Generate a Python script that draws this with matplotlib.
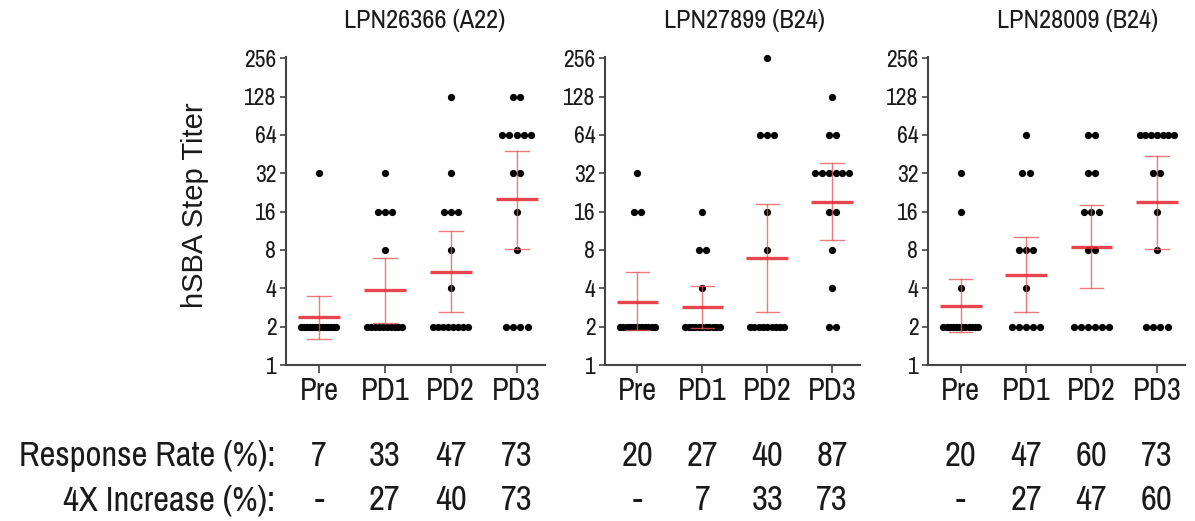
import matplotlib
matplotlib.use("Agg")
import matplotlib.pyplot as plt
import matplotlib.transforms as mtransforms
import numpy as np

# --- data ---
groups = ["Pre", "PD1", "PD2", "PD3"]
titles = ["LPN26366 (A22)", "LPN27899 (B24)", "LPN28009 (B24)"]

# (titer, number of subjects) for each group
lpn26366 = [
    [(32, 1), (2, 14)],
    [(32, 1), (16, 3), (8, 1), (2, 10)],
    [(128, 1), (32, 1), (16, 3), (8, 1), (4, 1), (2, 8)],
    [(128, 2), (64, 5), (32, 2), (16, 1), (8, 1), (2, 4)],
]
lpn27899 = [
    [(32, 1), (16, 2), (2, 12)],
    [(16, 1), (8, 2), (4, 1), (2, 11)],
    [(256, 1), (64, 3), (16, 1), (8, 1), (2, 9)],
    [(128, 1), (64, 2), (32, 6), (16, 2), (8, 1), (4, 1), (2, 2)],
]
lpn28009 = [
    [(32, 1), (16, 1), (4, 1), (2, 12)],
    [(64, 1), (32, 2), (8, 3), (4, 1), (2, 5)],
    [(64, 2), (32, 2), (16, 3), (8, 2), (2, 6)],
    [(64, 7), (32, 2), (16, 1), (8, 1), (2, 4)],
]
panels = [lpn26366, lpn27899, lpn28009]

# geometric means and error bar limits
gmt = [[2.37, 3.9, 5.4, 20.2], [3.1, 2.85, 6.9, 19.2], [2.9, 5.1, 8.5, 18.9]]
err_lo = [[1.59, 2.15, 2.6, 8.1], [1.88, 1.95, 2.6, 9.6], [1.83, 2.6, 4.0, 8.1]]
err_hi = [[3.5, 6.9, 11.3, 48], [5.35, 4.2, 18.3, 38.4], [4.7, 10.1, 17.9, 44]]

response_rate = [["7", "33", "47", "73"], ["20", "27", "40", "87"], ["20", "47", "60", "73"]]
increase_4x = [["-", "27", "40", "73"], ["-", "7", "33", "73"], ["-", "27", "47", "60"]]

yticks = [1, 2, 4, 8, 16, 32, 64, 128, 256]

NARROW = ["Liberation Sans Narrow", "Archivo Narrow", "DejaVu Sans"]
REGULAR = ["Liberation Sans", "DejaVu Sans"]
INK = "#1a1a1a"

W, H = 1195, 521
fig = plt.figure(figsize=(W / 100, H / 100), dpi=100)

lefts = [286, 605, 928]
rights = [545, 860, 1185]
bottom_px, top_px = 365, 57
title_x = [425, 745, 1078]

for p, data in enumerate(panels):
    ax = fig.add_axes([lefts[p] / W, 1 - bottom_px / H,
                       (rights[p] - lefts[p]) / W, (bottom_px - top_px) / H])

    # dots, spread sideways in rows
    for gi, pairs in enumerate(data):
        for val, n in pairs:
            step = min(0.11, 0.53 / (n - 1)) if n > 1 else 0
            xs = gi + (np.arange(n) - (n - 1) / 2) * step
            ax.plot(xs, [val] * n, "o", color="black", ms=5.2, mec="none",
                    clip_on=False, zorder=3)

    # geometric mean and error bars
    for gi in range(len(groups)):
        ax.plot([gi, gi], [err_lo[p][gi], err_hi[p][gi]], color="#e35a5f", lw=1.0,
                alpha=0.8, zorder=4)
        for yv in (err_lo[p][gi], err_hi[p][gi]):
            ax.plot([gi - 0.18, gi + 0.18], [yv, yv], color="#e35a5f", lw=1.0,
                    alpha=0.8, zorder=4)
        ax.plot([gi - 0.32, gi + 0.32], [gmt[p][gi]] * 2, color="#e3262f", lw=2.4,
                alpha=0.85, solid_capstyle="butt", zorder=5)

    ax.set_yscale("log", base=2)
    ax.set_ylim(1, 262)
    ax.set_xlim(-0.5, 3.43)
    ax.set_yticks(yticks)
    ax.set_yticklabels([str(t) for t in yticks], family=NARROW, fontsize=17, color=INK)
    ax.yaxis.set_minor_locator(matplotlib.ticker.NullLocator())
    ax.set_xticks(range(len(groups)))
    ax.set_xticklabels(groups, family=NARROW, fontsize=22, color=INK)
    ax.tick_params(axis="y", length=4, width=1.2, pad=3, colors="#444444", labelcolor=INK)
    ax.tick_params(axis="x", length=6, width=1.2, pad=3, colors="#444444", labelcolor=INK)
    for s in ("top", "right"):
        ax.spines[s].set_visible(False)
    for s in ("left", "bottom"):
        ax.spines[s].set_color("#444444")
        ax.spines[s].set_linewidth(1.5)

    fig.text(title_x[p] / W, 1 - 20 / H, titles[p], family=NARROW, fontsize=19,
             ha="center", va="center", color=INK)

    # table values under each group
    tr = mtransforms.blended_transform_factory(ax.transData, fig.transFigure)
    for gi in range(len(groups)):
        ax.text(gi, 1 - 456 / H, response_rate[p][gi], transform=tr, family=NARROW,
                fontsize=25, ha="center", va="center", color=INK)
        ax.text(gi, 1 - 500 / H, increase_4x[p][gi], transform=tr, family=NARROW,
                fontsize=25, ha="center", va="center", color=INK)

fig.text(275 / W, 1 - 456 / H, "Response Rate (%):", family=NARROW, fontsize=25,
         ha="right", va="center", color=INK)
fig.text(275 / W, 1 - 500 / H, "4X Increase (%):", family=NARROW, fontsize=25,
         ha="right", va="center", color=INK)
fig.text(195 / W, 1 - 205 / H, "hSBA Step Titer", family=REGULAR, fontsize=21,
         rotation=90, ha="center", va="center", color=INK)

fig.savefig("out.png", dpi=100, facecolor="white")
